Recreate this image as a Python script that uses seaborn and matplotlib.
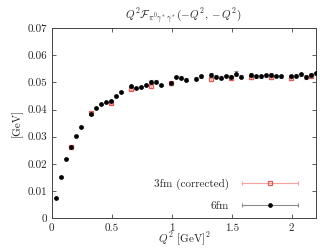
import matplotlib
matplotlib.use("Agg")
import matplotlib.pyplot as plt
import matplotlib.ticker as mticker
from matplotlib.legend_handler import HandlerErrorbar
import seaborn as sns

# 6fm volume
q2_6fm = [0.033, 0.075, 0.117, 0.158, 0.200, 0.242, 0.325, 0.367, 0.408, 0.450,
          0.492, 0.533, 0.575, 0.658, 0.700, 0.742, 0.783, 0.825, 0.867, 0.908,
          0.992, 1.033, 1.075, 1.117, 1.200, 1.242, 1.325, 1.367, 1.408, 1.450,
          1.492, 1.533, 1.575, 1.658, 1.700, 1.742, 1.783, 1.825, 1.867, 1.908,
          1.992, 2.033, 2.075, 2.117, 2.158, 2.200]
f_6fm = [0.0076, 0.0152, 0.0219, 0.0261, 0.0304, 0.0335, 0.0383, 0.0404, 0.0419, 0.0426,
         0.0430, 0.0450, 0.0463, 0.0485, 0.0479, 0.0483, 0.0490, 0.0502, 0.0502, 0.0490,
         0.0496, 0.0520, 0.0517, 0.0510, 0.0513, 0.0522, 0.0527, 0.0521, 0.0517, 0.0523,
         0.0521, 0.0532, 0.0521, 0.0527, 0.0522, 0.0522, 0.0526, 0.0527, 0.0523, 0.0522,
         0.0522, 0.0525, 0.0530, 0.0520, 0.0527, 0.0533]
err_6fm = [0.0002, 0.0002, 0.0002, 0.0002, 0.0003, 0.0003, 0.0003, 0.0003, 0.0003, 0.0003,
           0.0004, 0.0004, 0.0004, 0.0005, 0.0004, 0.0004, 0.0005, 0.0005, 0.0005, 0.0005,
           0.0005, 0.0005, 0.0005, 0.0007, 0.0005, 0.0006, 0.0006, 0.0005, 0.0005, 0.0005,
           0.0006, 0.0009, 0.0005, 0.0006, 0.0006, 0.0006, 0.0005, 0.0006, 0.0005, 0.0005,
           0.0006, 0.0005, 0.0006, 0.0008, 0.0006, 0.0006]

# 3fm volume, finite-size corrected
q2_3fm = [0.158, 0.325, 0.492, 0.658, 0.825, 0.992, 1.325, 1.492, 1.658, 1.825, 1.992, 2.158]
f_3fm = [0.0262, 0.0388, 0.0423, 0.0476, 0.0485, 0.0496, 0.0511, 0.0515, 0.0519, 0.0518,
         0.0516, 0.0524]
err_3fm = [0.0003, 0.0004, 0.0004, 0.0005, 0.0005, 0.0005, 0.0006, 0.0006, 0.0006, 0.0006,
           0.0006, 0.0006]

sns.set_style("ticks")
plt.rcParams["font.family"] = ["cmr10", "DejaVu Serif"]
plt.rcParams["mathtext.fontset"] = "cm"
plt.rcParams["axes.unicode_minus"] = False

fig, ax = plt.subplots(figsize=(3.32, 2.49), dpi=100)
fig.subplots_adjust(left=0.156, right=0.951, bottom=0.123, top=0.888)

red = ax.errorbar(q2_3fm, f_3fm, yerr=err_3fm, fmt="s", ms=3.0, mfc="none",
                  mec="#e05a55", mew=0.9, ecolor="#f4a3a0", elinewidth=0.8,
                  capsize=1.5, capthick=0.8, label="3fm (corrected)", zorder=2)
blk = ax.errorbar(q2_6fm, f_6fm, yerr=err_6fm, fmt="o", ms=2.4, color="black",
                  ecolor="#8c8c8c", elinewidth=0.8, capsize=1.5, capthick=0.8,
                  label="6fm", zorder=3)

ax.set_xlim(0, 2.2)
ax.set_ylim(0, 0.07)
ax.xaxis.set_major_locator(mticker.MultipleLocator(0.5))
ax.yaxis.set_major_locator(mticker.MultipleLocator(0.01))
ax.xaxis.set_major_formatter(mticker.FormatStrFormatter("%g"))
ax.yaxis.set_major_formatter(mticker.FormatStrFormatter("%g"))
ax.tick_params(direction="in", top=True, right=True, length=3, width=0.6,
               labelsize=8, color="#444444", pad=3.5)
for s in ax.spines.values():
    s.set_linewidth(0.7)
    s.set_color("#444444")

ax.set_title(r"$Q^2\mathcal{F}_{\pi^0\gamma^*\gamma^*}(-Q^2,-Q^2)$", fontsize=8, pad=6)
ax.set_xlabel(r"$Q^2$ [GeV]$^2$", fontsize=8, labelpad=-1)
ax.set_ylabel("[GeV]", fontsize=8, labelpad=3)

# gnuplot style legend: horizontal bars
for c in (red, blk):
    c.has_xerr = True
    c.has_yerr = False
ax.legend(loc="lower right", bbox_to_anchor=(0.933, 0.041), frameon=False,
          markerfirst=False, fontsize=8, handlelength=5, handletextpad=1.2,
          labelspacing=0.95, borderpad=0, borderaxespad=0, numpoints=1,
          handler_map={type(red): HandlerErrorbar(xerr_size=2.5)})

fig.savefig("out.png", dpi=100)
